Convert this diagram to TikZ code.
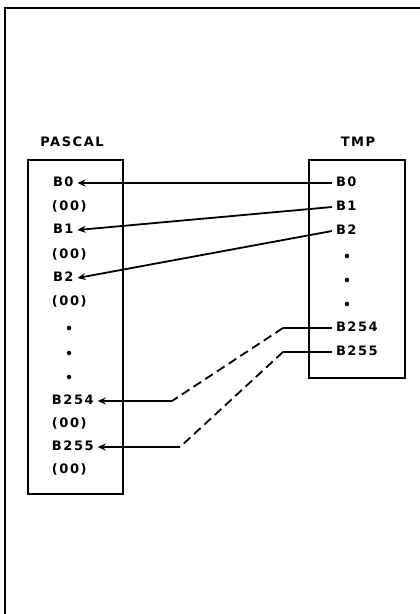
\documentclass[tikz,border=0pt]{standalone}
\usepackage{fontspec}
\usepackage{tikz}
\usetikzlibrary{arrows.meta, positioning}
\newfontfamily\cellfont{DejaVu Sans Bold}[LetterSpace=12]

\begin{document}
\begin{tikzpicture}[
          x=1pt, y=-1pt,
          cell/.style={font=\cellfont\fontsize{13}{15}\selectfont, inner sep=0pt, outer xsep=4pt, text height=9pt, text depth=2.5pt, anchor=west},
          ellip/.style={circle, fill=black, inner sep=0pt, minimum size=4.5pt},
          regbox/.style={draw, line width=2pt, rectangle, anchor=north west},
          arr/.style={-{Stealth[length=8pt, width=7pt]}, line width=1.8pt},
          link/.style={line width=1.8pt},
          dlink/.style={line width=1.8pt, dash pattern=on 9pt off 5pt}
        ]
          \useasboundingbox (0,0) rectangle (420,614);
          % outer frame, top and left only
          \draw[line width=2pt] (420,8) -- (5,8) -- (5,614);

          % the two tables
          \node[cell, anchor=center] (pascaltitle) at (72,143) {PASCAL};
          \node[cell, anchor=center] (tmptitle) at (358,143) {TMP};
          \node[regbox, minimum width=95pt, minimum height=334pt] (pascal) at (27,159) {};
          \node[regbox, minimum width=96pt, minimum height=218pt] (tmp) at (308,159) {};

          % PASCAL rows
          \node[cell] (p0) at (49,183) {B0};
          \node[cell] (p0x) at (48,207) {(00)};
          \node[cell] (p1) at (49,230) {B1};
          \node[cell] (p1x) at (48,255) {(00)};
          \node[cell] (p2) at (49,278) {B2};
          \node[cell] (p2x) at (48,302) {(00)};
          \node[ellip] (pd1) at (69,328) {};
          \node[ellip] (pd2) at (69,353) {};
          \node[ellip] (pd3) at (69,377) {};
          \node[cell] (p254) at (48,401) {B254};
          \node[cell] (p254x) at (48,424) {(00)};
          \node[cell] (p255) at (48,447) {B255};
          \node[cell] (p255x) at (48,470) {(00)};

          % TMP rows
          \node[cell] (t0) at (332,183) {B0};
          \node[cell] (t1) at (332,207) {B1};
          \node[cell] (t2) at (332,231) {B2};
          \node[ellip] (td1) at (347,256) {};
          \node[ellip] (td2) at (347,280) {};
          \node[ellip] (td3) at (347,304) {};
          \node[cell] (t254) at (332,328) {B254};
          \node[cell] (t255) at (332,352) {B255};

          % bends of the dashed links
          \coordinate (k254a) at (283,328);
          \coordinate (k254b) at (172,401);
          \coordinate (k255a) at (283,352);
          \coordinate (k255b) at (180,447);

          \draw[arr] (t0.west) -- (p0.east);
          \draw[arr] (t1.west) -- (p1.east);
          \draw[arr] (t2.west) -- (p2.east);
          \draw[link] (t254.west) -- (k254a);
          \draw[dlink] (k254a) -- (k254b);
          \draw[arr] (k254b) -- (p254.east);
          \draw[link] (t255.west) -- (k255a);
          \draw[dlink] (k255a) -- (k255b);
          \draw[arr] (k255b) -- (p255.east);
        \end{tikzpicture}
\end{document}
